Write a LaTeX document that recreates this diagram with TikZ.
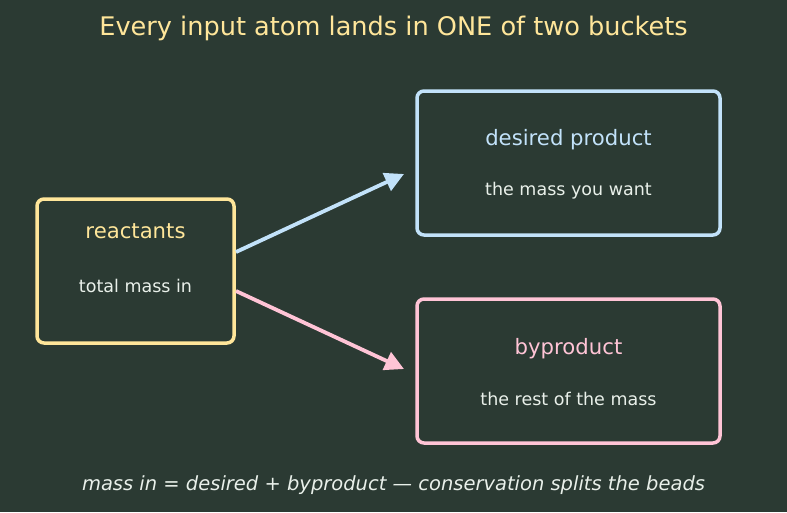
\documentclass[tikz,border=0pt]{standalone}
\usepackage{fontspec}
\setmainfont{DejaVu Sans}
\usetikzlibrary{arrows.meta}
\definecolor{bg}{HTML}{2B3A33}
\definecolor{ylw}{HTML}{FFE69A}
\definecolor{blu}{HTML}{C2E2FA}
\definecolor{pnk}{HTML}{FFC4D6}
\definecolor{wht}{HTML}{E9F0EA}
\tikzset{
  box/.style={draw, line width=3.5pt, rounded corners=7pt, fill=bg},
  head/.style={font=\fontsize{21.2}{24}\selectfont},
  sub/.style={text=wht, font=\fontsize{17.5}{20}\selectfont},
  arr/.style={line width=3.8pt, -{Triangle[length=19pt,width=19pt]}},
}
\begin{document}
\begin{tikzpicture}[x=1pt,y=-1pt]
\fill[bg] (0,0) rectangle (787,512);
\useasboundingbox (0,0) rectangle (787,512);
\node[text=ylw, font=\fontsize{25.6}{28}\selectfont] (title) at (393.5,28) {Every input atom lands in ONE of two buckets};
\node[box, draw=ylw, minimum width=197pt, minimum height=144pt] (react) at (135.5,271) {};
\node[box, draw=blu, minimum width=303pt, minimum height=144pt] (des) at (568.5,163) {};
\node[box, draw=pnk, minimum width=303pt, minimum height=144pt] (byp) at (568.5,371) {};
\node[head, text=ylw] (rt) at (135.5,231) {reactants};
\node[sub] (rs) at (135.5,285.5) {total mass in};
\node[head, text=blu] (dt) at (568.5,140) {desired product};
\node[sub] (ds) at (568.5,190.5) {the mass you want};
\node[head, text=pnk] (bt) at (568.5,349) {byproduct};
\node[sub] (bs) at (568.5,398.5) {the rest of the mass};
\coordinate (a1s) at (236,252);
\coordinate (a1e) at (404,174);
\coordinate (a2s) at (236,291);
\coordinate (a2e) at (404,369);
\draw[arr, draw=blu, fill=blu] (a1s) -- (a1e);
\draw[arr, draw=pnk, fill=pnk] (a2s) -- (a2e);
\node[text=wht, font=\itshape\fontsize{19.5}{22}\selectfont] (foot) at (393.5,485) {mass in = desired + byproduct — conservation splits the beads};
\end{tikzpicture}
\end{document}
